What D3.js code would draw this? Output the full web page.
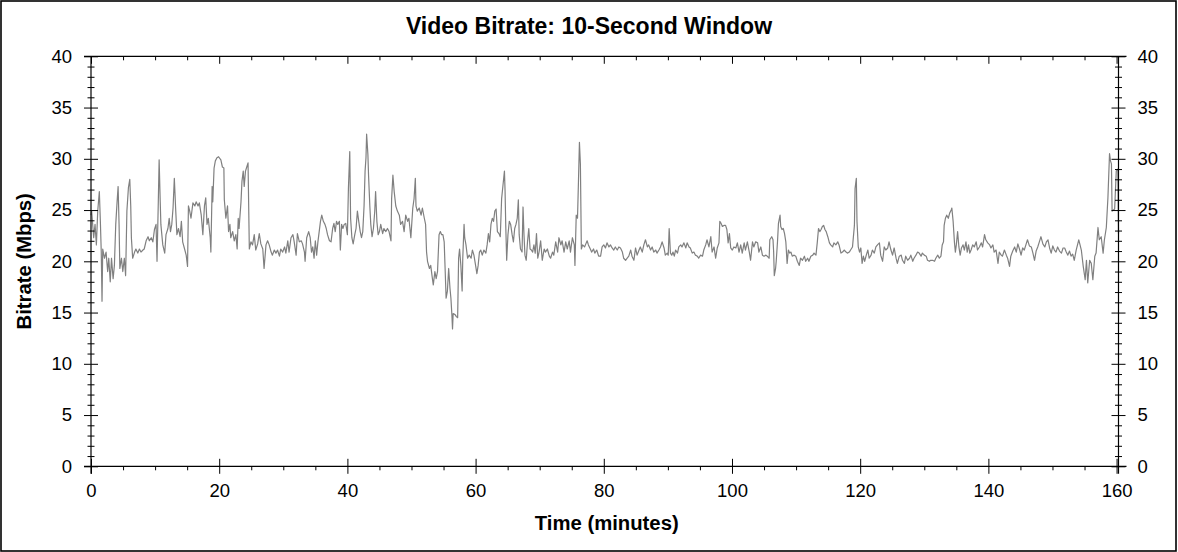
<!DOCTYPE html>
<html>
<head>
<meta charset="utf-8">
<script src="https://cdn.jsdelivr.net/npm/d3@7/dist/d3.min.js"></script>
<style>
  html, body { margin: 0; padding: 0; background: #fff; }
  svg { display: block; }
  text { font-family: "Liberation Sans", Arial, sans-serif; fill: #000; }
</style>
</head>
<body>
<svg id="chart" width="1178" height="552"></svg>
<script>
// ---- Data ----
const chartTitle = "Video Bitrate: 10-Second Window";
const xAxisTitle = "Time (minutes)";
const yAxisTitle = "Bitrate (Mbps)";
const xMajorTicks = [0, 20, 40, 60, 80, 100, 120, 140, 160];
const yMajorTicks = [0, 5, 10, 15, 20, 25, 30, 35, 40];

// time in minutes
const timeMin = [
0.0,0.1,0.42,0.63,0.84,1.05,1.3,1.46,1.6,1.72,1.83,2.1,2.35,2.6,2.77,3.0,3.2,3.45,3.65,3.86,4.07,4.23,4.38,4.5,4.75,4.96,5.2,5.4,5.6,5.84,6.05,6.2,6.3,6.5,6.8,7.0,7.3,7.55,7.8,8.1,8.3,8.6,8.9,9.1,9.4,9.65,9.9,10.15,10.3,10.5,10.63,10.8,10.9,11.2,11.5,11.7,12.0,12.2,12.4,12.6,12.8,13.0,13.2,13.4,13.65,13.9,14.1,14.3,14.6,14.85,15.06,15.2,15.4,15.6,15.9,16.2,16.4,16.7,16.9,17.2,17.45,17.7,17.9,18.1,18.3,18.6,18.7,18.9,19.0,19.2,19.4,
19.65,19.9,20.26,20.5,20.73,20.8,21.04,21.3,21.46,21.67,21.8,22.1,22.35,22.6,22.8,22.97,23.1,23.4,23.55,23.75,23.9,24.1,24.3,24.5,24.6,24.7,24.95,25.2,25.47,25.7,26.0,26.25,26.5,26.8,27.0,27.3,27.55,27.8,28.1,28.3,28.6,28.85,29.1,29.4,29.6,29.9,30.2,30.4,30.7,30.9,31.2,31.5,31.7,32.0,32.2,32.5,32.8,33.0,33.3,33.4,33.65,33.96,34.2,34.4,34.6,34.8,35.0,35.2,35.4,35.6,35.8,36.0,36.25,36.5,36.7,36.9,37.2,37.45,37.7,37.9,38.1,38.3,38.5,38.75,38.9,39.1,39.3,39.5,
39.74,40.0,40.16,40.37,40.5,40.7,40.9,41.15,41.35,41.56,41.77,42.0,42.2,42.4,42.6,42.76,42.9,43.0,43.2,43.3,43.5,43.65,43.85,44.06,44.27,44.4,44.6,44.8,45.0,45.2,45.5,45.7,46.0,46.25,46.5,46.8,46.9,47.1,47.3,47.55,47.8,48.1,48.3,48.6,48.85,49.1,49.4,49.6,49.9,50.2,50.4,50.6,50.7,50.9,51.2,51.5,51.7,52.0,52.2,52.35,52.5,52.8,53.0,53.2,53.4,53.65,53.85,54.06,54.3,54.5,54.7,54.9,55.1,55.26,55.4,55.6,55.8,56.0,56.15,56.3,56.4,56.5,56.8,57.0,57.2,57.35,57.5,57.7,57.9,58.0,58.2,58.3,58.5,58.75,59.0,59.3,
59.5,59.74,60.0,60.2,60.4,60.6,60.8,61.04,61.3,61.6,61.8,62.0,62.2,62.4,62.6,62.8,63.0,63.2,63.4,63.65,63.85,64.06,64.27,64.5,64.6,64.7,64.85,65.05,65.26,65.47,65.7,65.9,66.1,66.3,66.5,66.67,66.8,67.0,67.25,67.4,67.55,67.7,67.9,68.1,68.3,68.5,68.7,68.9,69.1,69.3,69.5,69.7,69.9,70.15,70.4,70.7,70.9,71.2,71.5,71.7,72.0,72.2,72.5,72.8,73.0,73.3,73.5,73.8,74.06,74.3,74.6,74.8,75.1,75.4,75.5,75.7,75.9,76.05,76.2,76.35,76.5,76.7,77.0,77.2,77.4,77.6,77.9,78.1,78.4,78.6,78.9,79.2,
79.5,79.74,80.0,80.26,80.5,80.8,81.04,81.3,81.56,81.8,82.1,82.35,82.6,82.9,83.1,83.4,83.65,83.9,84.2,84.4,84.7,84.95,85.2,85.5,85.7,86.0,86.25,86.5,86.8,87.0,87.3,87.55,87.8,88.1,88.3,88.6,88.85,89.1,89.4,89.6,89.9,90.05,90.2,90.4,90.6,90.8,91.0,91.2,91.5,91.7,92.0,92.2,92.5,92.8,93.0,93.3,93.5,93.8,94.06,94.3,94.6,94.8,95.1,95.4,95.6,95.9,96.1,96.4,96.7,96.9,97.2,97.45,97.7,97.97,98.1,98.3,98.5,98.75,99.0,99.2,99.4,99.6,99.8,100.05,100.3,
100.6,100.84,101.1,101.36,101.6,101.9,102.1,102.4,102.7,102.9,103.2,103.4,103.7,104.0,104.2,104.5,104.75,105.0,105.3,105.5,105.8,105.9,106.2,106.4,106.5,106.6,106.8,106.9,107.1,107.25,107.5,107.6,107.8,108.0,108.2,108.4,108.6,108.8,109.0,109.2,109.4,109.7,109.95,110.2,110.5,110.7,111.0,111.3,111.5,111.8,112.0,112.3,112.6,112.8,113.1,113.3,113.5,113.7,113.9,114.1,114.3,114.5,114.7,114.95,115.2,115.4,115.7,115.9,116.2,116.5,116.7,117.0,117.25,117.5,117.8,118.0,118.3,118.5,118.8,119.1,119.2,119.4,119.5,119.7,119.9,120.1,120.3,120.5,120.7,120.95,121.2,121.4,
121.7,121.9,122.2,122.45,122.7,123.0,123.2,123.5,123.75,124.0,124.3,124.5,124.8,125.05,125.3,125.6,125.8,126.1,126.4,126.6,126.9,127.1,127.4,127.7,127.9,128.2,128.4,128.7,128.96,129.2,129.5,129.7,130.0,130.3,130.5,130.8,131.0,131.3,131.6,131.8,132.1,132.35,132.6,132.8,133.0,133.1,133.3,133.5,133.75,133.96,134.2,134.3,134.5,134.7,134.85,135.0,135.2,135.4,135.6,135.8,136.05,136.25,136.5,136.7,136.9,137.1,137.3,137.55,137.8,138.1,138.3,138.6,138.9,139.1,139.4,139.6,139.9,140.2,140.4,140.7,140.9,141.2,141.5,141.7,142.0,142.2,142.5,142.8,143.0,143.3,
143.5,143.8,144.1,144.35,144.6,144.85,145.1,145.35,145.6,145.85,146.1,146.4,146.7,146.95,147.2,147.45,147.7,147.95,148.2,148.5,148.8,149.05,149.3,149.55,149.8,150.05,150.3,150.55,150.8,151.1,151.4,151.65,151.9,152.15,152.4,152.65,152.9,153.15,153.4,153.7,154.1,154.3,154.5,154.8,155.1,155.3,155.5,155.8,156.05,156.3,156.6,156.8,157.1,157.3,157.6,157.9,158.1,158.4,158.65,158.9,159.05,159.2,159.3,159.7,159.95,160.2,160.3
];

// bitrate in Mbps (one per time above)
const bitrateMbps = [
24.5,24.9,22.3,23.6,21.6,24.9,26.8,23.9,20.9,16.1,21.2,20.3,20.9,19.0,20.3,18.0,20.3,18.3,19.6,23.6,25.8,27.3,23.6,19.3,20.3,19.0,20.3,18.6,24.9,27.2,28.0,25.4,22.3,20.3,20.9,21.2,20.8,21.2,20.9,21.1,21.2,22.0,22.4,22.0,22.3,21.9,23.1,23.6,20.0,25.8,29.9,25.8,23.6,21.6,20.8,22.6,23.2,24.2,22.9,23.6,25.2,28.1,25.2,22.6,23.2,22.4,23.9,21.9,21.2,20.6,19.5,25.4,24.9,24.2,25.7,25.4,25.8,25.4,25.7,24.5,22.6,25.4,26.2,23.6,24.2,22.3,20.9,27.3,25.8,29.1,29.8,
30.1,30.2,29.9,29.2,29.1,26.0,24.2,25.4,22.9,23.6,22.3,22.9,22.0,22.6,21.2,24.2,23.2,25.8,27.8,28.8,27.3,28.8,29.2,29.6,25.4,21.2,21.9,21.6,22.6,21.1,21.7,22.7,21.7,21.2,19.3,21.6,22.0,21.6,20.9,20.6,21.1,20.8,21.1,20.5,21.2,20.9,21.4,20.8,22.0,20.9,22.3,22.6,21.9,20.6,22.7,21.9,22.0,21.7,20.9,20.0,22.3,22.9,22.3,20.9,21.4,20.3,22.0,20.6,21.9,22.9,23.9,24.5,23.9,23.6,23.2,22.6,22.0,21.9,23.2,23.7,22.9,23.9,23.6,23.9,21.1,23.6,23.2,23.6,
23.7,22.6,27.1,30.7,24.2,22.3,21.7,22.6,23.2,24.9,23.9,22.9,22.3,22.9,25.4,28.8,30.1,32.4,30.4,28.4,25.4,23.6,22.4,23.2,24.9,26.8,23.9,22.6,22.9,23.6,22.7,23.2,22.9,23.2,22.9,22.0,26.1,28.4,26.8,25.4,24.9,24.5,23.6,23.9,22.9,24.5,23.9,24.2,22.3,25.2,26.1,28.1,25.4,24.9,25.2,24.5,25.2,24.2,23.6,20.9,20.0,19.3,19.6,18.6,17.7,19.0,18.3,19.0,22.6,22.9,22.6,22.6,21.9,19.0,16.4,17.1,19.3,17.4,16.4,14.8,13.4,14.9,14.8,14.6,14.5,20.3,21.2,19.6,17.1,20.3,23.6,22.3,21.6,20.3,20.6,20.3,
21.1,20.6,19.6,18.8,19.6,20.9,21.1,20.6,21.1,20.8,21.6,22.7,21.9,23.6,24.2,23.9,24.9,25.1,22.9,22.7,22.4,26.1,27.4,28.8,26.8,23.6,20.1,22.6,23.9,23.6,22.6,21.9,23.2,23.6,24.2,26.0,22.6,21.2,20.9,25.3,22.6,20.6,20.1,21.9,23.2,21.2,21.1,20.9,21.6,20.8,22.7,20.3,20.9,22.0,20.1,21.2,20.9,21.2,20.5,20.3,20.9,20.6,21.9,20.9,22.3,21.6,22.0,20.9,21.9,21.2,22.0,20.9,22.3,21.6,19.6,24.5,24.2,27.8,31.6,29.5,21.2,21.6,21.4,21.7,22.0,21.6,21.2,20.9,21.2,20.8,21.1,20.5,
20.5,21.4,21.6,21.3,21.8,21.4,21.6,21.3,21.1,21.4,21.1,21.4,21.3,20.9,20.3,20.1,20.3,20.5,21.1,20.5,20.1,21.3,20.6,21.1,21.4,20.9,21.6,22.1,21.4,21.6,21.1,21.4,20.9,21.1,20.8,21.1,21.4,21.9,21.3,20.6,20.8,20.6,23.2,20.8,20.6,20.9,20.5,21.1,20.8,21.4,21.6,21.4,21.8,21.3,21.8,21.4,21.3,20.8,20.9,20.6,20.5,20.3,20.6,20.5,21.1,21.6,22.1,21.4,22.4,20.9,21.4,20.3,21.3,21.8,23.9,23.7,23.4,23.5,23.5,23.1,21.8,22.7,21.3,21.1,21.4,
21.3,21.8,20.9,21.6,20.8,21.8,21.1,21.9,20.9,20.1,21.9,21.4,21.9,21.8,20.9,21.4,20.6,20.5,20.6,20.5,20.3,22.1,22.4,22.1,20.9,18.6,19.3,20.0,21.9,23.7,24.5,23.4,23.1,23.2,22.7,21.9,19.8,21.1,20.8,20.9,20.5,20.6,20.5,20.0,19.6,20.3,20.1,20.5,20.0,20.3,20.0,20.5,20.6,20.8,20.6,21.8,23.2,22.9,23.1,23.4,23.5,23.1,22.9,22.4,21.8,21.6,21.4,21.8,21.6,21.9,21.6,20.8,20.9,21.1,20.9,20.8,20.9,21.1,21.4,23.5,27.1,28.1,23.9,21.4,20.9,21.3,19.8,20.5,20.0,20.6,21.1,20.3,
20.6,21.1,20.8,21.4,21.6,21.8,20.6,20.0,21.4,21.1,21.3,21.9,21.1,20.6,21.3,20.3,19.8,20.5,20.6,20.1,19.8,20.5,20.1,20.3,20.6,20.0,20.3,20.6,20.9,20.8,20.5,20.8,20.6,20.5,20.1,20.0,20.1,20.1,20.0,20.3,20.6,20.3,20.5,21.6,21.9,23.5,24.2,24.5,24.2,24.7,25.0,25.2,23.9,21.9,20.9,21.6,22.9,21.4,20.6,21.3,21.6,21.1,21.9,20.9,21.6,20.8,21.1,21.6,21.4,21.9,21.1,21.4,21.8,21.4,22.6,22.1,21.8,21.6,21.3,21.6,20.9,21.1,19.8,20.9,20.6,20.5,21.1,20.6,20.3,19.5,
20.5,21.0,21.4,20.9,21.7,21.2,20.6,21.3,21.1,21.6,22.1,21.5,21.4,20.8,20.1,21.0,21.4,21.9,22.4,21.7,21.4,21.9,22.1,21.3,20.8,21.5,21.1,20.9,21.4,21.0,20.8,21.3,21.3,20.9,20.6,21.0,20.5,20.7,20.1,21.1,22.1,21.6,21.1,19.5,18.2,20.1,17.9,20.1,19.8,18.2,20.5,20.8,23.3,22.1,22.4,20.8,22.1,23.3,26.2,30.5,29.8,29.5,24.9,25.1,28.8,29.0,22.7
];

// ---- Layout ----
const W = 1178, H = 552;
const plotL = 91, plotR = 1118.5, plotT = 56.3, plotB = 466.3;

const svg = d3.select("#chart");

// outer frame
svg.append("rect")
  .attr("x", 1).attr("y", 1).attr("width", W - 3).attr("height", H - 2)
  .attr("fill", "#fff").attr("stroke", "#000").attr("stroke-width", 1.6);

const x = d3.scaleLinear().domain([0, 160.3]).range([plotL, plotR]);
const y = d3.scaleLinear().domain([0, 40]).range([plotB, plotT]);

const xMinor = d3.range(0, 161, 5).filter(v => v % 20 !== 0);
const yMinor = d3.range(0, 41, 1).filter(v => v % 5 !== 0);

const points = timeMin.map((t, i) => [t, bitrateMbps[i]]);

// data line
svg.append("path")
  .datum(points)
  .attr("fill", "none")
  .attr("stroke", "#808080")
  .attr("stroke-width", 1.2)
  .attr("stroke-linejoin", "round")
  .attr("d", d3.line().x(d => x(d[0])).y(d => y(d[1])));

function styleAxis(g, fontSize) {
  g.select(".domain").remove();
  g.selectAll(".tick line").attr("stroke", "#000").attr("stroke-width", 1);
  g.selectAll("text")
    .attr("font-size", fontSize)
    .attr("font-family", "'Liberation Sans', Arial, sans-serif")
    .attr("fill", "#000");
}
const tickFont = "18.5px";

// left axis
svg.append("g").attr("transform", `translate(${plotL},0)`)
  .call(d3.axisLeft(y).tickValues(yMajorTicks).tickSize(7).tickPadding(12))
  .call(g => styleAxis(g, tickFont));
svg.append("g").attr("transform", `translate(${plotL},0)`)
  .call(d3.axisRight(y).tickValues(yMajorTicks).tickSize(7).tickFormat(""))
  .call(g => styleAxis(g, tickFont));
svg.append("g").attr("transform", `translate(${plotL},0)`)
  .call(d3.axisLeft(y).tickValues(yMinor).tickSize(3.5).tickFormat(""))
  .call(g => styleAxis(g, tickFont));
svg.append("g").attr("transform", `translate(${plotL},0)`)
  .call(d3.axisRight(y).tickValues(yMinor).tickSize(3.5).tickFormat(""))
  .call(g => styleAxis(g, tickFont));

// right axis
svg.append("g").attr("transform", `translate(${plotR},0)`)
  .call(d3.axisRight(y).tickValues(yMajorTicks).tickSize(7).tickPadding(12))
  .call(g => styleAxis(g, tickFont));
svg.append("g").attr("transform", `translate(${plotR},0)`)
  .call(d3.axisLeft(y).tickValues(yMajorTicks).tickSize(7).tickFormat(""))
  .call(g => styleAxis(g, tickFont));
svg.append("g").attr("transform", `translate(${plotR},0)`)
  .call(d3.axisRight(y).tickValues(yMinor).tickSize(3.5).tickFormat(""))
  .call(g => styleAxis(g, tickFont));
svg.append("g").attr("transform", `translate(${plotR},0)`)
  .call(d3.axisLeft(y).tickValues(yMinor).tickSize(3.5).tickFormat(""))
  .call(g => styleAxis(g, tickFont));

// bottom axis
svg.append("g").attr("transform", `translate(0,${plotB})`)
  .call(d3.axisBottom(x).tickValues(xMajorTicks).tickSize(7.5).tickPadding(10))
  .call(g => styleAxis(g, tickFont));
svg.append("g").attr("transform", `translate(0,${plotB})`)
  .call(d3.axisTop(x).tickValues(xMajorTicks).tickSize(7.5).tickFormat(""))
  .call(g => styleAxis(g, tickFont));
svg.append("g").attr("transform", `translate(0,${plotB})`)
  .call(d3.axisBottom(x).tickValues(xMinor).tickSize(4).tickFormat(""))
  .call(g => styleAxis(g, tickFont));

// top axis (ticks pointing inward)
svg.append("g").attr("transform", `translate(0,${plotT})`)
  .call(d3.axisBottom(x).tickValues(xMajorTicks).tickSize(7.5).tickFormat(""))
  .call(g => styleAxis(g, tickFont));
svg.append("g").attr("transform", `translate(0,${plotT})`)
  .call(d3.axisBottom(x).tickValues(xMinor).tickSize(4).tickFormat(""))
  .call(g => styleAxis(g, tickFont));

// axis frame lines
const frame = svg.append("g").attr("stroke", "#000").attr("stroke-width", 1.2);
frame.append("line").attr("x1", plotL - 7).attr("x2", plotR + 8).attr("y1", plotT).attr("y2", plotT);
frame.append("line").attr("x1", plotL - 7).attr("x2", plotR + 8).attr("y1", plotB).attr("y2", plotB);
frame.append("line").attr("x1", plotL).attr("x2", plotL).attr("y1", plotT).attr("y2", plotB + 7.5);
frame.append("line").attr("x1", plotR).attr("x2", plotR).attr("y1", plotT).attr("y2", plotB + 7.5);

// titles
svg.append("text")
  .attr("x", 589).attr("y", 34)
  .attr("text-anchor", "middle")
  .attr("font-size", "23px").attr("font-weight", "bold")
  .text(chartTitle);

svg.append("text")
  .attr("x", (plotL + plotR) / 2 + 2).attr("y", 530)
  .attr("text-anchor", "middle")
  .attr("font-size", "20.3px").attr("font-weight", "bold")
  .text(xAxisTitle);

svg.append("text")
  .attr("transform", `translate(31,${(plotT + plotB) / 2}) rotate(-90)`)
  .attr("text-anchor", "middle")
  .attr("font-size", "20.3px").attr("font-weight", "bold")
  .text(yAxisTitle);
</script>
</body>
</html>
